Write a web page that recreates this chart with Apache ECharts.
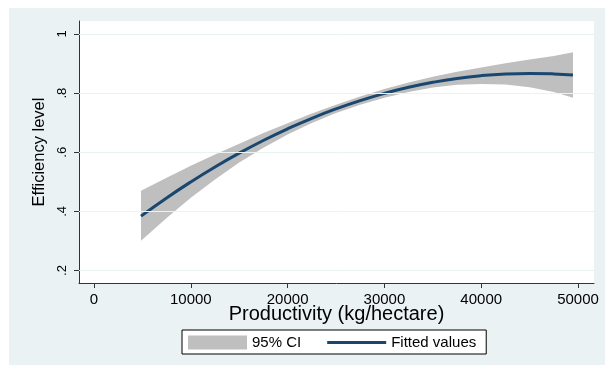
<!DOCTYPE html>
<html><head><meta charset="utf-8">
<script src="https://cdn.jsdelivr.net/npm/echarts@6/dist/echarts.min.js"></script>
<style>html,body{margin:0;padding:0;background:#fff}#c{width:605px;height:365px}</style>
</head><body><div id="c"></div>
<script>
// Productivity (kg/hectare) sample points along the fitted curve
const productivity = [4855, 7500, 10000, 12500, 15000, 17500, 20000, 22500, 25000, 27500, 30000, 32500, 35000, 37500, 40000, 42500, 45000, 47500, 49480];
// Fitted efficiency level
const fittedValues = [0.384, 0.4455, 0.4997, 0.5502, 0.597, 0.640, 0.6793, 0.7149, 0.7467, 0.7748, 0.7991, 0.8198, 0.8366, 0.8498, 0.8592, 0.8649, 0.8668, 0.8651, 0.861];
// 95% confidence interval bounds
const ciLower = [0.301, 0.378, 0.446, 0.508, 0.565, 0.615, 0.660, 0.699, 0.733, 0.761, 0.784, 0.804, 0.819, 0.828, 0.831, 0.829, 0.820, 0.804, 0.784];
const ciUpper = [0.470, 0.514, 0.554, 0.592, 0.629, 0.665, 0.698, 0.731, 0.761, 0.789, 0.814, 0.836, 0.855, 0.872, 0.887, 0.901, 0.914, 0.926, 0.938];
// Tick labels
const xTickValues = [0, 10000, 20000, 30000, 40000, 50000];
const yTickValues = [0.2, 0.4, 0.6, 0.8, 1];

const FONT = '"Liberation Sans", Arial, Helvetica, sans-serif';
const pair = (xs, ys) => xs.map((x, i) => [x, ys[i]]);
const bandData = productivity.map((x, i) => [x, ciLower[i], ciUpper[i]]);

const chart = echarts.init(document.getElementById('c'), null, {renderer: 'canvas'});
chart.setOption({
  backgroundColor: '#ffffff',
  animation: false,
  graphic: [{
    type: 'rect', left: 9, top: 8, z: -10, silent: true,
    shape: {width: 596, height: 357},
    style: {fill: '#eaf2f3'}
  }],
  grid: {
    left: 79, top: 21, right: 11, bottom: 82,
    show: true, backgroundColor: '#ffffff', borderWidth: 0,
    containLabel: false, outerBoundsMode: 'none'
  },
  xAxis: {
    type: 'value', min: -1550, max: 51650,
    name: 'Productivity (kg/hectare)', nameLocation: 'middle', nameGap: 21, nameMoveOverlap: false,
    nameTextStyle: {fontFamily: FONT, fontSize: 20, color: '#000'},
    axisLine: {show: true, onZero: false, lineStyle: {color: '#333', width: 1}},
    axisTick: {show: true, length: 5, customValues: xTickValues, lineStyle: {color: '#333'}},
    axisLabel: {show: true, customValues: xTickValues, margin: 9, fontFamily: FONT, fontSize: 15, color: '#000',
      formatter: v => String(Math.round(v))},
    splitLine: {show: false}
  },
  yAxis: {
    type: 'value', min: 0.1577, max: 1.044,
    name: 'Efficiency level', nameLocation: 'middle', nameGap: 31, nameMoveOverlap: false,
    nameTextStyle: {fontFamily: FONT, fontSize: 16.5, color: '#000'},
    axisLine: {show: true, onZero: false, lineStyle: {color: '#333', width: 1}},
    axisTick: {show: true, length: 5, customValues: yTickValues, lineStyle: {color: '#333'}},
    axisLabel: {
      show: true, customValues: yTickValues, rotate: 90, margin: 10,
      fontFamily: FONT, fontSize: 13, color: '#000',
      formatter: v => (Math.abs(v - 1) < 1e-9 ? '1' : String(+v.toFixed(2)).replace(/^0/, ''))
    },
    splitLine: {show: false}
  },
  legend: {
    left: 182, top: 330, orient: 'horizontal',
    padding: [5, 10, 4, 6],
    itemWidth: 59, itemHeight: 14, itemGap: 26,
    borderColor: '#000', borderWidth: 1, backgroundColor: '#ffffff',
    textStyle: {fontFamily: FONT, fontSize: 15, color: '#000'},
    selectedMode: false,
    data: [
      {name: '95% CI', icon: 'rect', itemStyle: {color: '#bfbfbf'}},
      {name: 'Fitted values', icon: 'path://M0,0H60V3H0Z', itemStyle: {color: '#1a476f'}}
    ]
  },
  series: [
    {
      name: 'grid', type: 'line', data: [], z: 1, silent: true,
      markLine: {
        silent: true, symbol: 'none', label: {show: false},
        lineStyle: {color: '#eaf2f3', width: 1, type: 'solid'},
        data: yTickValues.map(v => ({yAxis: v}))
      }
    },
    {
      name: '95% CI', type: 'custom', data: bandData, z: 2, silent: true,
      encode: {x: 0, y: [1, 2]},
      itemStyle: {color: '#bfbfbf'},
      renderItem: (params, api) => {
        if (params.dataIndex !== 0) return null;
        const pts = [];
        for (let i = 0; i < bandData.length; i++) pts.push(api.coord([bandData[i][0], bandData[i][2]]));
        for (let i = bandData.length - 1; i >= 0; i--) pts.push(api.coord([bandData[i][0], bandData[i][1]]));
        return {type: 'polygon', shape: {points: pts, smooth: 0}, style: {fill: '#bfbfbf'}};
      }
    },
    {
      name: 'Fitted values', type: 'line', data: pair(productivity, fittedValues),
      symbol: 'none', showSymbol: false, z: 3, silent: true, smooth: true,
      itemStyle: {color: '#1a476f'},
      lineStyle: {color: '#1a476f', width: 3}
    }
  ]
});
</script></body></html>
